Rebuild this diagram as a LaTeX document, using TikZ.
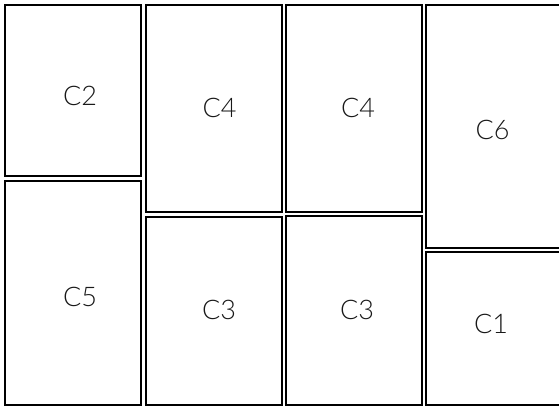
\documentclass[tikz,border=0pt]{standalone}
\usepackage{fontspec}
\setmainfont{Lato}
\newfontfamily\thinfont{Lato Light}
\usetikzlibrary{positioning}

\begin{document}
\begin{tikzpicture}[
 x=1pt, y=-1pt,
 cell/.style={rectangle, draw=black, line width=1.5pt, minimum width=136pt, inner sep=0pt},
 wide/.style={cell, minimum width=140pt},
 lbl/.style={rectangle, draw=none, inner sep=0pt, font=\thinfont\fontsize{27}{30}\selectfont, text=black!90},
]
\useasboundingbox (0,0) rectangle (559,409);
\clip (0,0) rectangle (559,409);
\node[cell, minimum height=171pt] (c2) at (73,90.5) {};
\node[cell, minimum height=224pt] (c5) at (73,293) {};
\node[cell, minimum height=207pt] (c4a) at (214,108.5) {};
\node[cell, minimum height=188pt] (c3a) at (214,311) {};
\node[cell, minimum height=207pt] (c4b) at (354,108.5) {};
\node[cell, minimum height=189pt] (c3b) at (354,310.5) {};
\node[wide, minimum height=243pt] (c6) at (496,126.5) {};
\node[wide, minimum height=153pt] (c1) at (496,328.5) {};

% labels
\node[lbl] (l2) at (80,96) {C2};
\node[lbl] (l5) at (80,296.5) {C5};
\node[lbl] (l4a) at (219.5,108) {C4};
\node[lbl] (l3a) at (219,310) {C3};
\node[lbl] (l4b) at (358,108) {C4};
\node[lbl] (l3b) at (357,310) {C3};
\node[lbl] (l6) at (492.5,130) {C6};
\node[lbl] (l1) at (491,324) {C1};

\end{tikzpicture}
\end{document}
